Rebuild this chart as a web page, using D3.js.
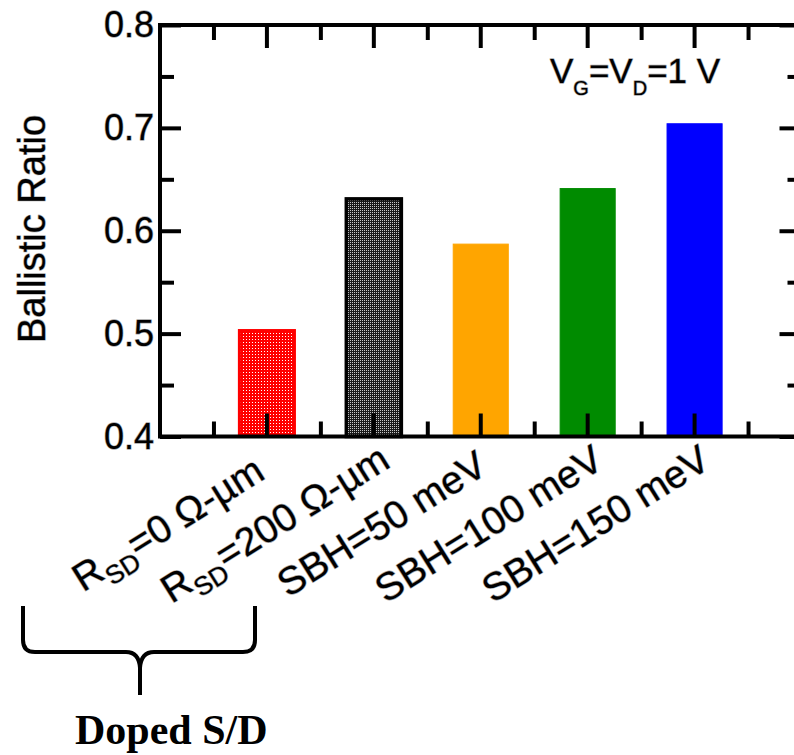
<!DOCTYPE html>
<html><head><meta charset="utf-8">
<script src="https://cdn.jsdelivr.net/npm/d3@7"></script>
<style>body{margin:0;background:#fff}svg{display:block}</style>
</head><body>
<svg id="c" width="794" height="755"></svg>
<script>
// ---- data ----
const categories = ["R_SD=0 Ω-µm", "R_SD=200 Ω-µm", "SBH=50 meV", "SBH=100 meV", "SBH=150 meV"];
const ballisticRatio = [0.503, 0.631, 0.587, 0.641, 0.704];
const yMajorTicks = [0.4, 0.5, 0.6, 0.7, 0.8];
const yMinorTicks = [0.45, 0.55, 0.65, 0.75];
const yTickLabels = ["0.4", "0.5", "0.6", "0.7", "0.8"];
const yDomain = [0.4, 0.8];
const yTitle = "Ballistic Ratio";
const biasNote = ["V", "G", "=V", "D", "=1 V"];
const groupNote = "Doped S/D";

// ---- styles ----
const barFills = ["url(#patRed)", "url(#patBlack)", "#ffa500", "#008b00", "#0000ff"];
const barStrokes = ["#ff0000", "#000000", "#ffa500", "#008b00", "#0000ff"];
const barStrokeW = [3, 3.5, 1, 1, 1];

const svg = d3.select("#c");
const L = 160, R = 801.5, T = 25, B = 436.5;

const defs = svg.append("defs");
const pr = defs.append("pattern").attr("id", "patRed").attr("patternUnits", "userSpaceOnUse")
  .attr("width", 3).attr("height", 3);
pr.append("rect").attr("width", 3).attr("height", 3).attr("fill", "#ff0000");
pr.append("rect").attr("width", 1).attr("height", 1).attr("fill", "#ffffff");
const pb = defs.append("pattern").attr("id", "patBlack").attr("patternUnits", "userSpaceOnUse")
  .attr("width", 2).attr("height", 2);
pb.append("rect").attr("width", 2).attr("height", 2).attr("fill", "#1a1a1a");
pb.append("rect").attr("width", 1).attr("height", 1).attr("fill", "#c8c8c8");

// scales
const stepW = (R - L) / (categories.length + 1);
const x = d3.scaleBand().domain(categories)
  .range([L + stepW / 2, R - stepW / 2])
  .paddingInner(0.485).paddingOuter(0.2425);
const xMinor = d3.scaleLinear().domain([0, categories.length])
  .range([L + stepW / 2, R - stepW / 2]);
const y = d3.scaleLinear().domain(yDomain).range([B, T]);

// bars
svg.append("g").selectAll("rect").data(categories).join("rect")
  .attr("x", (d) => x(d))
  .attr("width", x.bandwidth())
  .attr("y", (d, i) => y(ballisticRatio[i]))
  .attr("height", (d, i) => y(yDomain[0]) - y(ballisticRatio[i]))
  .attr("fill", (d, i) => barFills[i])
  .attr("stroke", (d, i) => barStrokes[i])
  .attr("stroke-width", (d, i) => barStrokeW[i]);

// axes helpers
function styleAxis(g) {
  g.select(".domain").remove();
  g.selectAll(".tick line").attr("stroke", "#000").attr("stroke-width", 4);
}
const font = "'Liberation Sans', Arial, Helvetica, sans-serif";
function halo(sel) {
  sel.attr("stroke", "#a8a8a8").attr("stroke-width", 1.3).attr("paint-order", "stroke")
     .attr("stroke-linejoin", "round");
}

// left
svg.append("g").attr("transform", `translate(${L},0)`)
  .call(d3.axisLeft(y).tickValues(yMajorTicks).tickSize(-21).tickPadding(6)
    .tickFormat((d, i) => yTickLabels[i]))
  .call(styleAxis)
  .call(g => g.selectAll("text").attr("font-family", font).attr("font-size", 36).attr("fill", "#000").call(halo));
svg.append("g").attr("transform", `translate(${L},0)`)
  .call(d3.axisLeft(y).tickValues(yMinorTicks).tickSize(-14).tickFormat(""))
  .call(styleAxis);
// right
svg.append("g").attr("transform", `translate(${R},0)`)
  .call(d3.axisRight(y).tickValues(yMajorTicks).tickSize(-22).tickFormat(""))
  .call(styleAxis);
svg.append("g").attr("transform", `translate(${R},0)`)
  .call(d3.axisRight(y).tickValues(yMinorTicks).tickSize(-14).tickFormat(""))
  .call(styleAxis);
// bottom
svg.append("g").attr("transform", `translate(0,${B})`)
  .call(d3.axisBottom(x).tickSize(-23).tickFormat(""))
  .call(styleAxis);
svg.append("g").attr("transform", `translate(0,${B})`)
  .call(d3.axisBottom(xMinor).tickValues(d3.range(categories.length + 1)).tickSize(-15).tickFormat(""))
  .call(styleAxis);
// top
svg.append("g").attr("transform", `translate(0,${T})`)
  .call(d3.axisTop(x).tickSize(-23).tickFormat(""))
  .call(styleAxis);
svg.append("g").attr("transform", `translate(0,${T})`)
  .call(d3.axisTop(xMinor).tickValues(d3.range(categories.length + 1)).tickSize(-15).tickFormat(""))
  .call(styleAxis);

// frame
svg.append("rect").attr("x", L).attr("y", T).attr("width", R - L).attr("height", B - T)
  .attr("fill", "none").attr("stroke", "#000").attr("stroke-width", 4);

// category labels (rotated, centred)
const lab = svg.append("g").selectAll("text").data(categories).join("text")
  .attr("transform", d => `translate(${x(d) + x.bandwidth() / 2 - 92},535) rotate(-32)`)
  .attr("text-anchor", "middle")
  .attr("font-family", font).attr("font-size", 39).attr("fill", "#000").call(halo);
lab.each(function(d) {
  const t = d3.select(this);
  if (d.startsWith("R_SD")) {
    t.append("tspan").text("R");
    t.append("tspan").text("SD").attr("font-size", 26).attr("dy", 10);
    t.append("tspan").text(d.slice(4)).attr("dy", -10);
  } else {
    t.text(d);
  }
});

// y title
svg.append("text").attr("transform", `translate(45,229) rotate(-90)`)
  .attr("text-anchor", "middle").attr("font-family", font).attr("font-size", 38)
  .attr("fill", "#000").call(halo).text(yTitle);

// bias note
const bn = svg.append("text").attr("x", 550).attr("y", 83)
  .attr("font-family", font).attr("font-size", 35).attr("fill", "#000").call(halo);
bn.append("tspan").text(biasNote[0]);
bn.append("tspan").text(biasNote[1]).attr("font-size", 20).attr("dy", 12);
bn.append("tspan").text(biasNote[2]).attr("dy", -12);
bn.append("tspan").text(biasNote[3]).attr("font-size", 20).attr("dy", 12);
bn.append("tspan").text(biasNote[4]).attr("dy", -12);

// bracket under first two categories
const bx0 = 23, bx1 = 255, bxm = (bx0 + bx1) / 2 + 1;
svg.append("path")
  .attr("d", `M${bx0},606 L${bx0},640 Q${bx0},652 ${bx0 + 12},652 L${bxm - 14},652 Q${bxm - 1},652 ${bxm},668 L${bxm},695 ` +
             `M${bxm},668 Q${bxm + 1},652 ${bxm + 14},652 L${bx1 - 12},652 Q${bx1},652 ${bx1},640 L${bx1},606`)
  .attr("fill", "none").attr("stroke", "#000").attr("stroke-width", 4);

svg.append("text").attr("x", 75).attr("y", 744)
  .attr("font-family", "'Liberation Serif', 'Times New Roman', serif").attr("font-weight", "bold")
  .attr("font-size", 42).attr("fill", "#000").text(groupNote);
</script>
</body></html>
